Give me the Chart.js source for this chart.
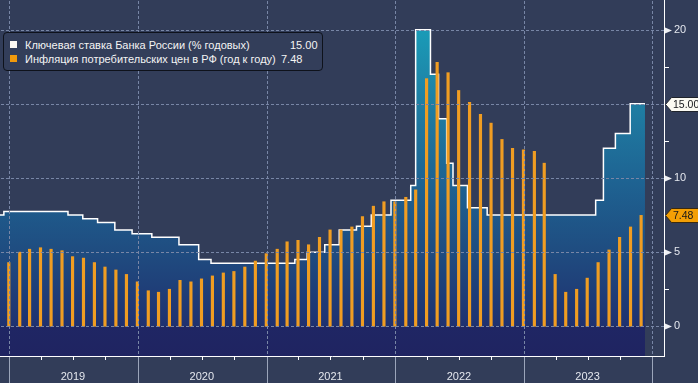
<!DOCTYPE html>
<html><head><meta charset="utf-8">
<script src="https://cdn.jsdelivr.net/npm/chart.js@4"></script>
<style>
html,body{margin:0;padding:0;background:#323d59;overflow:hidden;}
#wrap{position:relative;width:698px;height:383px;}
canvas{display:block;}
#legend{position:absolute;left:3px;top:32px;width:318px;height:37px;border:1px solid #0e121b;border-radius:4px;background:#333e5a;font:11px "Liberation Sans",Arial,sans-serif;color:#f4f4f4;}
.row{position:absolute;left:0;width:100%;height:14px;line-height:14px;white-space:nowrap;}
.sw{position:absolute;left:6px;top:3px;width:7px;height:7px;}
.lab{position:absolute;left:21px;top:0;}
.val{position:absolute;top:0;}
</style></head>
<body>
<div id="wrap">
<canvas id="c" width="698" height="383"></canvas>
<div id="legend">
  <div class="row" style="top:5px"><span class="sw" style="background:#fbf8f2"></span><span class="lab" id="lab0"></span><span class="val" id="val0" style="left:286px"></span></div>
  <div class="row" style="top:19px"><span class="sw" style="background:#f29a0c"></span><span class="lab" id="lab1"></span><span class="val" id="val1" style="left:277px"></span></div>
</div>
</div>
<script>
// ---- data ----
const seriesNames = ['Ключевая ставка Банка России (% годовых)', 'Инфляция потребительских цен в РФ (год к году)'];
const cpiMonths = ['2018-12',
 '2019-01','2019-02','2019-03','2019-04','2019-05','2019-06','2019-07','2019-08','2019-09','2019-10','2019-11','2019-12',
 '2020-01','2020-02','2020-03','2020-04','2020-05','2020-06','2020-07','2020-08','2020-09','2020-10','2020-11','2020-12',
 '2021-01','2021-02','2021-03','2021-04','2021-05','2021-06','2021-07','2021-08','2021-09','2021-10','2021-11','2021-12',
 '2022-01','2022-02','2022-03','2022-04','2022-05','2022-06','2022-07','2022-08','2022-09','2022-10','2022-11','2022-12',
 '2023-01','2023-02','2023-03','2023-04','2023-05','2023-06','2023-07','2023-08','2023-09','2023-10','2023-11'];
const cpiValues = [4.3,
 5.0,5.2,5.3,5.2,5.1,4.7,4.6,4.3,4.0,3.8,3.5,3.0,
 2.4,2.3,2.5,3.1,3.0,3.2,3.4,3.6,3.7,4.0,4.4,4.9,
 5.2,5.7,5.8,5.5,6.0,6.5,6.5,6.7,7.4,8.1,8.4,8.4,
 8.7,9.2,16.7,17.8,17.1,15.9,15.1,14.3,13.7,12.6,12.0,11.9,
 11.8,11.0,3.5,2.3,2.5,3.25,4.3,5.15,6.0,6.7,7.48];
const rateDates = ['2018-12-06','2018-12-17','2019-06-17','2019-07-29','2019-09-09','2019-10-28','2019-12-16',
 '2020-02-10','2020-04-27','2020-06-22','2020-07-27',
 '2021-03-22','2021-04-26','2021-06-15','2021-07-26','2021-09-13','2021-10-25','2021-12-20',
 '2022-02-14','2022-02-28','2022-04-11','2022-05-04','2022-05-27','2022-06-14','2022-07-25','2022-09-19',
 '2023-07-24','2023-08-15','2023-09-18','2023-10-30','2023-12-11'];
const rateValues = [7.5,7.75,7.5,7.25,7.0,6.5,6.25,
 6.0,5.5,4.5,4.25,
 4.5,5.0,5.5,6.5,6.75,7.5,8.5,
 9.5,20,17,14,11,9.5,8.0,7.5,
 8.5,12,13,15,15];
const yearLabels = ['2019','2020','2021','2022','2023'];
const yTickValues = [0,5,10,15,20];
const yMinorTicks = [2.5,7.5,12.5,17.5];
const xRange = ['2018-12-06','2024-02-03'];
const yRange = [-2,22];

// ---- helpers ----
const DAY = 86400000;
function dayNum(s){const p=s.split('-').map(Number);return Date.UTC(p[0],p[1]-1,p[2]||1)/DAY;}
function monthEnd(s){const p=s.split('-').map(Number);return Date.UTC(p[0],p[1],0)/DAY;}
const yearBounds = yearLabels.map(y=>dayNum(y+'-01-01')).concat([dayNum((+yearLabels[yearLabels.length-1]+1)+'-01-01')]);
const yearMids = yearLabels.map(y=>dayNum(y+'-07-01'));
const quarterTicks = [];
yearLabels.forEach(y=>['04','07','10'].forEach(m=>quarterTicks.push(dayNum(y+'-'+m+'-01'))));

document.getElementById('lab0').textContent = seriesNames[0];
document.getElementById('lab1').textContent = seriesNames[1];
document.getElementById('val0').textContent = rateValues[rateValues.length-1].toFixed(2);
document.getElementById('val1').textContent = cpiValues[cpiValues.length-1].toFixed(2);

const GRID = '#7886a6';
const FONT = '"Liberation Sans", Arial, sans-serif';

function areaGradient(ctx){
  const chart = ctx.chart; const a = chart.chartArea; const ys = chart.scales.y;
  if(!a || !ys) return '#1e5a8a';
  const g = chart.ctx.createLinearGradient(0,a.top,0,a.bottom);
  const h = a.bottom - a.top;
  const f = v => Math.min(1,Math.max(0,(ys.getPixelForValue(v)-a.top)/h));
  g.addColorStop(0,'#17a8c2');
  g.addColorStop(f(20),'#1a9bb7');
  g.addColorStop(f(15),'#1f7ea3');
  g.addColorStop(f(10),'#1e6493');
  g.addColorStop(f(5),'#1f4c80');
  g.addColorStop(f(0.001),'#1f3170');
  g.addColorStop(f(0),'#1f2664');
  g.addColorStop(1,'#1f2461');
  return g;
}

const decor = {
  id:'decor',
  afterDraw(chart){
    const ctx = chart.ctx, xs = chart.scales.x, ys = chart.scales.y, a = chart.chartArea;
    ctx.save();
    // dotted grid: short dashes every 5px at the tick values / year boundaries
    ctx.fillStyle = GRID;
    yTickValues.forEach(v=>{const py=Math.round(ys.getPixelForValue(v)); for(let x=Math.round(a.left)+1; x<a.right-1; x+=5) ctx.fillRect(x,py,3,1);});
    yearBounds.forEach(v=>{const px=Math.round(xs.getPixelForValue(v)); if(px<a.left||px>a.right) return; for(let y=Math.round(a.top)+1; y<a.bottom-1; y+=5) ctx.fillRect(px,y,1,3);});
    ctx.lineWidth = 1;
    ctx.strokeStyle = '#9ba5ba';
    yearBounds.forEach(v=>{const px=Math.round(xs.getPixelForValue(v))+0.5; if(px<a.left||px>a.right) return; ctx.beginPath();ctx.moveTo(px,a.bottom+1);ctx.lineTo(px,chart.height);ctx.stroke();});
    ctx.strokeStyle = '#ffffff';
    quarterTicks.forEach(v=>{const px=Math.round(xs.getPixelForValue(v))+0.5; if(px<a.left||px>a.right) return; ctx.beginPath();ctx.moveTo(px,a.bottom);ctx.lineTo(px,a.bottom+4);ctx.stroke();});
    yMinorTicks.forEach(v=>{const py=Math.round(ys.getPixelForValue(v))+0.5; ctx.beginPath();ctx.moveTo(a.right,py);ctx.lineTo(a.right+5,py);ctx.stroke();});
    ctx.fillStyle = '#eef0f4';
    yTickValues.forEach(v=>{if(v===15) return; const py=Math.round(ys.getPixelForValue(v))+0.5; ctx.beginPath();ctx.moveTo(a.right+1,py-3);ctx.lineTo(a.right+8,py);ctx.lineTo(a.right+1,py+3);ctx.closePath();ctx.fill();});
    function box(val, fill, stroke, text){
      const py = Math.round(ys.getPixelForValue(val))+0.5;
      const x0 = a.right+1.5, x1 = x0+6, x2 = chart.width+2;
      ctx.beginPath();ctx.moveTo(x0,py);ctx.lineTo(x1,py-7);ctx.lineTo(x2,py-7);ctx.lineTo(x2,py+7);ctx.lineTo(x1,py+7);ctx.closePath();
      ctx.fillStyle = fill; ctx.fill(); ctx.strokeStyle = stroke; ctx.stroke();
      ctx.fillStyle = '#15161a'; ctx.font = '10.5px '+FONT; ctx.textBaseline='middle'; ctx.textAlign='left';
      ctx.fillText(text, a.right+9, py+0.5);
    }
    box(cpiValues[cpiValues.length-1], '#f39f05', '#3a2a10', cpiValues[cpiValues.length-1].toFixed(2));
    box(rateValues[rateValues.length-1], '#fbfaf2', '#20242c', rateValues[rateValues.length-1].toFixed(2));
    ctx.restore();
  }
};

new Chart(document.getElementById('c'), {
  type:'line',
  data:{datasets:[
    {type:'bar', label:seriesNames[1], data:cpiMonths.map((m,i)=>({x:monthEnd(m), y:cpiValues[i]})),
     backgroundColor:'#f09d22', borderWidth:0, barThickness:2.5, order:1},
    {type:'line', label:seriesNames[0], data:rateDates.map((d,i)=>({x:dayNum(d), y:rateValues[i]})),
     stepped:true, borderColor:'#ffffff', borderWidth:1.5, pointRadius:0, fill:'start',
     backgroundColor:areaGradient, borderJoinStyle:'miter', order:2}
  ]},
  options:{
    responsive:false, devicePixelRatio:1, animation:false,
    layout:{padding:0},
    plugins:{legend:{display:false}, tooltip:{enabled:false}},
    scales:{
      x:{type:'linear', position:'bottom', min:dayNum(xRange[0]), max:dayNum(xRange[1]), offset:false,
         afterBuildTicks(s){ s.ticks = yearBounds.concat(yearMids).sort((p,q)=>p-q).map(v=>({value:v})); },
         afterFit(s){ s.height = 27; s.paddingLeft=0; s.paddingRight=0; },
         ticks:{autoSkip:false, maxRotation:0, padding:14, color:'#e4e7ee', font:{family:FONT,size:11}, z:2,
           callback(v){ const i = yearMids.indexOf(v); return i>=0 ? yearLabels[i] : ''; }},
         grid:{display:false, drawTicks:false, offset:false},
         border:{display:true, color:'#ffffff', width:1, z:2}},
      y:{type:'linear', position:'right', min:yRange[0], max:yRange[1],
         afterBuildTicks(s){ s.ticks = yTickValues.map(v=>({value:v})); },
         afterFit(s){ s.width = 34; s.paddingTop=0; s.paddingBottom=0; },
         ticks:{padding:10, color:'#e4e7ee', font:{family:FONT,size:11}, z:2,
           callback(v){ return v===15 ? '' : String(v); }},
         grid:{display:false, drawTicks:false},
         border:{display:true, color:'#ffffff', width:1, z:2}}
    }
  },
  plugins:[decor]
});
</script>
</body></html>
